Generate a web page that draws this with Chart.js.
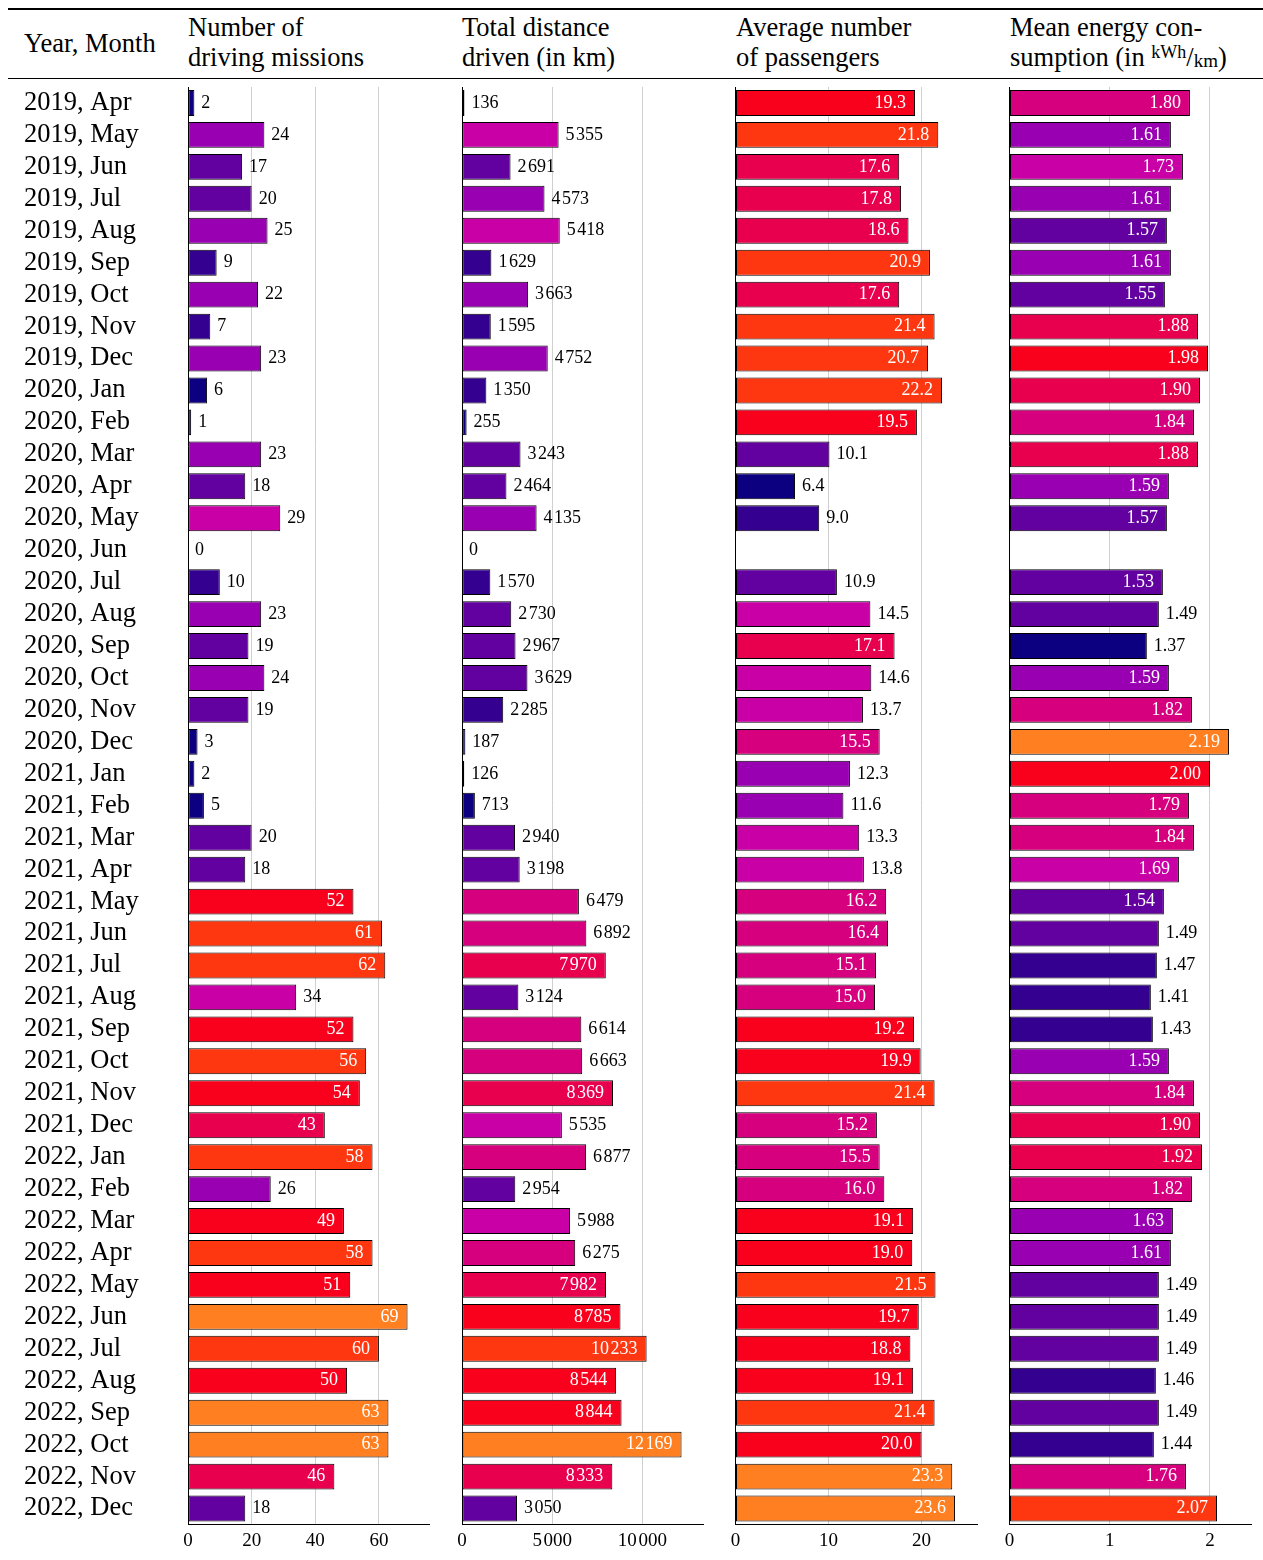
<!DOCTYPE html>
<html>
<head>
<meta charset="utf-8">
<title>Monthly driving statistics 2019-2022</title>
<script src="https://cdn.jsdelivr.net/npm/chart.js@4"></script>
<style>
  body { margin: 0; background: #fff; }
  #page { position: relative; width: 1263px; height: 1560px; overflow: hidden;
          font-family: "Liberation Serif", "Times New Roman", serif; color: #000; }
  #page canvas { position: absolute; left: 0; top: 0; }
  .rule { position: absolute; left: 8px; right: 0; background: #000; }
  .head { position: absolute; font-size: 26.5px; line-height: 30px; white-space: nowrap; }
  .sup { font-size: 18px; position: relative; top: -8px; }
  .sub { font-size: 19px; position: relative; top: 1px; }
</style>
</head>
<body>
<div id="page">
  <div class="rule" style="top:7.5px;height:2px"></div>
  <div class="rule" style="top:77.5px;height:1.5px"></div>
  <div class="head" style="left:24px;top:28px">Year, Month</div>
  <div class="head" style="left:188px;top:12px">Number of<br>driving missions</div>
  <div class="head" style="left:462px;top:12px">Total distance<br>driven (in km)</div>
  <div class="head" style="left:736px;top:12px">Average number<br>of passengers</div>
  <div class="head" style="left:1010px;top:12px">Mean energy con-<br>sumption (in <span class="sup">kWh</span>/<span class="sub">km</span>)</div>
  <canvas id="missionsChart" width="1263" height="1560"></canvas>
  <canvas id="distanceChart" width="1263" height="1560"></canvas>
  <canvas id="passengerChart" width="1263" height="1560"></canvas>
  <canvas id="energyChart" width="1263" height="1560"></canvas>
</div>
<script>
// ======= DATA =======
const months = [
  "2019, Apr", "2019, May", "2019, Jun", "2019, Jul", "2019, Aug", "2019, Sep", "2019, Oct", "2019, Nov", "2019, Dec",
  "2020, Jan", "2020, Feb", "2020, Mar", "2020, Apr", "2020, May", "2020, Jun", "2020, Jul", "2020, Aug", "2020, Sep",
  "2020, Oct", "2020, Nov", "2020, Dec",
  "2021, Jan", "2021, Feb", "2021, Mar", "2021, Apr", "2021, May", "2021, Jun", "2021, Jul", "2021, Aug", "2021, Sep",
  "2021, Oct", "2021, Nov", "2021, Dec",
  "2022, Jan", "2022, Feb", "2022, Mar", "2022, Apr", "2022, May", "2022, Jun", "2022, Jul", "2022, Aug", "2022, Sep",
  "2022, Oct", "2022, Nov", "2022, Dec"
];

const missions = [
  2, 24, 17, 20, 25, 9, 22, 7, 23,
  6, 1, 23, 18, 29, 0, 10, 23, 19, 24, 19, 3,
  2, 5, 20, 18, 52, 61, 62, 34, 52, 56, 54, 43,
  58, 26, 49, 58, 51, 69, 60, 50, 63, 63, 46, 18
];

const distanceKm = [
  136, 5355, 2691, 4573, 5418, 1629, 3663, 1595, 4752,
  1350, 255, 3243, 2464, 4135, 0, 1570, 2730, 2967, 3629, 2285, 187,
  126, 713, 2940, 3198, 6479, 6892, 7970, 3124, 6614, 6663, 8369, 5535,
  6877, 2954, 5988, 6275, 7982, 8785, 10233, 8544, 8844, 12169, 8333, 3050
];

const passengers = [
  19.3, 21.8, 17.6, 17.8, 18.6, 20.9, 17.6, 21.4, 20.7,
  22.2, 19.5, 10.1, 6.4, 9.0, null, 10.9, 14.5, 17.1, 14.6, 13.7, 15.5,
  12.3, 11.6, 13.3, 13.8, 16.2, 16.4, 15.1, 15.0, 19.2, 19.9, 21.4, 15.2,
  15.5, 16.0, 19.1, 19.0, 21.5, 19.7, 18.8, 19.1, 21.4, 20.0, 23.3, 23.6
];

const energyKwhPerKm = [
  1.80, 1.61, 1.73, 1.61, 1.57, 1.61, 1.55, 1.88, 1.98,
  1.90, 1.84, 1.88, 1.59, 1.57, null, 1.53, 1.49, 1.37, 1.59, 1.82, 2.19,
  2.00, 1.79, 1.84, 1.69, 1.54, 1.49, 1.47, 1.41, 1.43, 1.59, 1.84, 1.90,
  1.92, 1.82, 1.63, 1.61, 1.49, 1.49, 1.49, 1.46, 1.49, 1.44, 1.76, 2.07
];

const missionTicks = [0, 20, 40, 60];
const distanceTicks = [0, 5000, 10000];
const passengerTicks = [0, 10, 20];
const energyTicks = [0, 1, 2];

// ======= STYLE =======
Chart.defaults.font.family = '"Liberation Serif", "Times New Roman", serif';
Chart.defaults.color = "#000";

const palette = [
  "#0d0080", "#34008f", "#6300a0", "#9800b2", "#c900a6",
  "#d6007e", "#e8004e", "#f9001c", "#ff3711", "#ff7f21"
];

function shade(v, lo, hi) {
  if (v === null) return "rgba(0,0,0,0)";
  const k = Math.floor((v - lo) / (hi - lo) * 10);
  return palette[Math.min(9, Math.max(0, k))];
}

// narrow gap between thousands, like the typeset original
function thousands(v) {
  return String(v).replace(/\B(?=(\d{3})+(?!\d))/g, "\u200A");
}

// labels next to / inside each bar
const valueLabels = {
  id: "valueLabels",
  afterDatasetsDraw(chart, args, opts) {
    const ctx = chart.ctx;
    const bars = chart.getDatasetMeta(0).data;
    const values = chart.data.datasets[0].data;
    ctx.save();
    ctx.font = '18px "Liberation Serif", "Times New Roman", serif';
    ctx.textBaseline = "middle";
    bars.forEach((bar, i) => {
      const v = values[i];
      if (v === null || v === undefined) return;
      const text = opts.format(v);
      if (v >= opts.inside) {
        ctx.fillStyle = "#fff";
        ctx.textAlign = "right";
        ctx.fillText(text, bar.x - 9, bar.y);
      } else {
        ctx.fillStyle = "#000";
        ctx.textAlign = "left";
        ctx.fillText(text, bar.x + 7, bar.y);
      }
    });
    ctx.restore();
  }
};

function makeColumn(canvasId, values, tickValues, cfg) {
  const ctx = document.getElementById(canvasId).getContext("2d");
  const top = Math.max(...values.filter(v => v !== null));
  const width = 241.5;
  const showMonths = cfg.left === 188;
  return new Chart(ctx, {
    type: "bar",
    data: {
      labels: months,
      datasets: [{
        data: values,
        backgroundColor: values.map(v => shade(v, cfg.lo, cfg.hi === undefined ? top : cfg.hi)),
        borderColor: "#000",
        borderWidth: 1,
        borderSkipped: false,
        barPercentage: 0.81,
        categoryPercentage: 1
      }]
    },
    options: {
      indexAxis: "y",
      responsive: false,
      animation: false,
      devicePixelRatio: 1,
      layout: {
        padding: {
          left: showMonths ? 24 : cfg.left,
          right: 1263 - cfg.left - width,
          top: 87,
          bottom: 5.5
        }
      },
      plugins: {
        legend: { display: false },
        tooltip: { enabled: false },
        valueLabels: { format: cfg.format, inside: cfg.inside }
      },
      scales: {
        x: {
          min: 0,
          max: top * 1.1,
          ticks: {
            autoSkip: false,
            padding: 5,
            maxRotation: 0,
            font: { size: 19 },
            callback: v => cfg.tick(v)
          },
          afterBuildTicks: s => { s.ticks = tickValues.map(v => ({ value: v })); },
          grid: { color: "#d0d0d0", lineWidth: 1, drawTicks: false },
          border: { color: "#000", width: 1 },
          afterFit: s => { s.height = 30; }
        },
        y: {
          ticks: {
            display: showMonths,
            crossAlign: "far",
            padding: 0,
            autoSkip: false,
            font: { size: 26.5 }
          },
          grid: { display: false },
          border: { color: "#000", width: 1 },
          afterFit: s => { s.width = showMonths ? 164 : 0; }
        }
      }
    },
    plugins: [valueLabels]
  });
}

// ======= FOUR COLUMNS =======
makeColumn("missionsChart", missions, missionTicks, {
  left: 188, lo: 0, inside: 40,
  format: v => String(v), tick: v => String(v)
});
makeColumn("distanceChart", distanceKm, distanceTicks, {
  left: 462, lo: 0, inside: 7500,
  format: v => thousands(v), tick: v => thousands(v)
});
makeColumn("passengerChart", passengers, passengerTicks, {
  left: 735.5, lo: 5.4, hi: 24.4, inside: 14.8,
  format: v => v.toFixed(1), tick: v => String(v)
});
makeColumn("energyChart", energyKwhPerKm, energyTicks, {
  left: 1009.5, lo: 1.305, hi: 2.205, inside: 1.5,
  format: v => v.toFixed(2), tick: v => String(v)
});
</script>
</body>
</html>
